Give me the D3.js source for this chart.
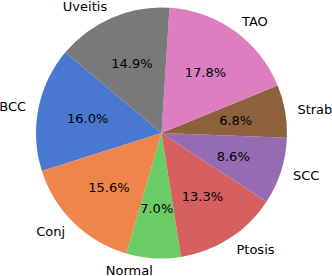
<!DOCTYPE html>
<html>
<head>
<meta charset="utf-8">
<script src="https://cdn.jsdelivr.net/npm/d3@7"></script>
<style>
  body { margin: 0; background: #fff; }
  svg text { font-family: "DejaVu Sans", sans-serif; font-size: 13px; fill: #000; }
</style>
</head>
<body>
<div id="chart"></div>
<script>
let labels = ["BCC", "Conj", "Normal", "Ptosis", "SCC", "Strab", "TAO", "Uveitis"];
let values = [16.0, 15.6, 7.0, 13.3, 8.6, 6.8, 17.8, 14.9];
let colors = ["#4878d0", "#ee854a", "#6acc64", "#d65f5f", "#956cb4", "#8c613c", "#dc7ec0", "#797979"];

let width = 332, height = 276;
let cx = 161.5, cy = 133, radius = 125.5;

// matplotlib style: startangle 140, counterclockwise
let start = (90 - 140) * Math.PI / 180;

let svg = d3.select("#chart").append("svg")
    .attr("width", width)
    .attr("height", height);

let g = svg.append("g").attr("transform", `translate(${cx},${cy})`);

let data = labels.map((l, i) => ({ label: l, value: values[i], color: colors[i] }));

let pie = d3.pie()
    .sort(null)
    .value(d => d.value)
    .startAngle(start)
    .endAngle(start - 2 * Math.PI);

let arc = d3.arc().innerRadius(0).outerRadius(radius);
let arcs = pie(data);

g.selectAll("path")
    .data(arcs)
    .enter()
    .append("path")
    .attr("d", arc)
    .attr("fill", d => d.data.color);

function pos(d, k) {
    let a = (d.startAngle + d.endAngle) / 2;
    return [Math.sin(a) * radius * k, -Math.cos(a) * radius * k];
}

// category labels
g.selectAll("text.lab")
    .data(arcs)
    .enter()
    .append("text")
    .attr("class", "lab")
    .attr("x", d => pos(d, 1.1)[0])
    .attr("y", d => pos(d, 1.1)[1])
    .attr("dy", "0.36em")
    .attr("text-anchor", d => pos(d, 1.1)[0] < 0 ? "end" : "start")
    .text(d => d.data.label);

// percentages
g.selectAll("text.pct")
    .data(arcs)
    .enter()
    .append("text")
    .attr("class", "pct")
    .attr("x", d => pos(d, 0.6)[0])
    .attr("y", d => pos(d, 0.6)[1])
    .attr("dy", "0.36em")
    .attr("text-anchor", "middle")
    .text(d => d.data.value.toFixed(1) + "%");
</script>
</body>
</html>
